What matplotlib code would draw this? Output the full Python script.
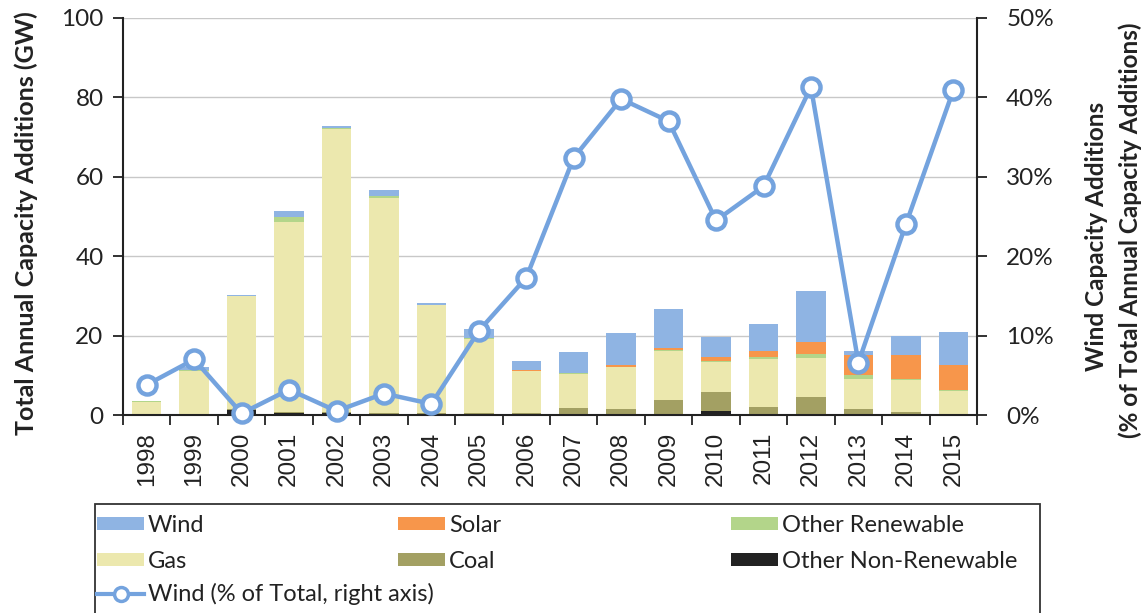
import matplotlib
matplotlib.use("Agg")
import matplotlib.pyplot as plt
from matplotlib.patches import Patch, Rectangle
from matplotlib.lines import Line2D
from matplotlib.ticker import FuncFormatter
import numpy as np

years = ["1998", "1999", "2000", "2001", "2002", "2003", "2004", "2005", "2006",
         "2007", "2008", "2009", "2010", "2011", "2012", "2013", "2014", "2015"]

# Annual capacity additions by source (GW)
other_nonrenew = [0.0, 0.0, 1.2, 0.4, 0.5, 0.2, 0.0, 0.0, 0.0, 0.0, 0.0, 0.0, 1.0, 0.3, 0.0, 0.0, 0.0, 0.0]
coal = [0.0, 0.2, 0.3, 0.3, 0.3, 0.4, 0.5, 0.5, 0.5, 1.7, 1.5, 3.8, 4.7, 1.8, 4.6, 1.4, 0.8, 0.1]
gas = [3.3, 11.0, 28.5, 48.0, 71.2, 54.1, 27.2, 18.6, 10.5, 8.7, 10.5, 12.2, 7.6, 12.0, 9.7, 7.6, 8.0, 5.9]
other_renew = [0.2, 0.2, 0.1, 1.2, 0.4, 0.4, 0.1, 0.2, 0.2, 0.1, 0.2, 0.4, 0.3, 0.5, 1.0, 1.0, 0.3, 0.3]
solar = [0.0, 0.0, 0.0, 0.0, 0.0, 0.0, 0.0, 0.0, 0.1, 0.2, 0.3, 0.4, 1.0, 1.5, 3.2, 5.0, 6.1, 6.2]
wind = [0.0, 0.8, 0.1, 1.6, 0.3, 1.6, 0.4, 2.3, 2.4, 5.1, 8.2, 9.9, 5.1, 6.7, 12.8, 1.1, 4.8, 8.5]

# Wind share of total annual additions (%)
wind_share = [3.8, 7.0, 0.2, 3.2, 0.5, 2.7, 1.4, 10.6, 17.3, 32.4, 39.8, 37.0,
              24.5, 28.8, 41.3, 6.6, 24.0, 40.9]

series = [
    ("Other Non-Renewable", other_nonrenew, "#222222"),
    ("Coal", coal, "#a3a063"),
    ("Gas", gas, "#ece8ae"),
    ("Other Renewable", other_renew, "#b3d58a"),
    ("Solar", solar, "#f7964b"),
    ("Wind", wind, "#8fb4e3"),
]
colors = {name: c for name, _, c in series}
line_color = "#74a3de"
ink = "#222222"

label_font = "Lato"
tick_font = "Liberation Sans"

W, H = 1144, 613
fig = plt.figure(figsize=(W / 100, H / 100), dpi=100)
ax = fig.add_axes([123 / W, 1 - 415 / H, (977 - 123) / W, (415 - 18) / H])
x = np.arange(len(years))

bottom = np.zeros(len(years))
for name, vals, c in series:
    vals = np.array(vals)
    ax.bar(x, vals, width=0.62, bottom=bottom, color=c, edgecolor="none", zorder=2)
    bottom += vals

ax.set_xlim(-0.5, len(years) - 0.5)
ax.set_ylim(0, 100)
ax.set_yticks([0, 20, 40, 60, 80, 100])
ax.yaxis.grid(True, color="#c8c8c8", linewidth=1.0, zorder=0)
ax.set_axisbelow(True)

ax.set_xticks(x)
ax.set_xticklabels(years, rotation=90, fontsize=17.5, family=tick_font, color=ink)
ax.set_xticks(np.arange(-0.5, len(years)), minor=True)
ax.tick_params(axis="x", which="major", length=0, pad=12)
ax.tick_params(axis="x", which="minor", length=7, width=1.3, direction="out", color=ink)
ax.tick_params(axis="y", length=7, width=1.3, direction="out", labelsize=17.5, color=ink,
               labelcolor=ink, pad=7)
for lab in ax.get_yticklabels():
    lab.set_family(label_font)

for side in ["top", "right"]:
    ax.spines[side].set_visible(False)
for side in ["left", "bottom"]:
    ax.spines[side].set_linewidth(1.5)
    ax.spines[side].set_color(ink)

ax2 = ax.twinx()
ax2.set_ylim(0, 50)
ax2.set_yticks([0, 10, 20, 30, 40, 50])
ax2.yaxis.set_major_formatter(FuncFormatter(lambda v, p: f"{int(v)}%"))
ax2.plot(x, wind_share, color=line_color, linewidth=3.2, marker="o", markersize=13,
         markerfacecolor="white", markeredgecolor=line_color, markeredgewidth=3.2,
         zorder=5, clip_on=False)
ax2.tick_params(axis="y", length=7, width=1.3, direction="out", labelsize=17.5, color=ink,
                labelcolor=ink, pad=14)
for lab in ax2.get_yticklabels():
    lab.set_family(label_font)
for side in ["top", "left", "bottom"]:
    ax2.spines[side].set_visible(False)
ax2.spines["right"].set_linewidth(1.5)
ax2.spines["right"].set_color(ink)

# Axis titles
fig.text(26 / W, 1 - 223 / H, "Total Annual Capacity Additions (GW)", rotation=90,
         ha="center", va="center", fontsize=18, fontweight="bold", family=label_font,
         color=ink)
fig.text(1097 / W, 1 - 236 / H, "Wind Capacity Additions", rotation=90,
         ha="center", va="center", fontsize=17.5, fontweight="bold", family=label_font,
         color=ink)
fig.text(1130 / W, 1 - 230 / H, "(% of Total Annual Capacity Additions)", rotation=90,
         ha="center", va="center", fontsize=17.5, fontweight="bold", family=label_font,
         color=ink)

# Legend frame running off the lower edge
fig.patches.append(Rectangle((95 / W, -0.05), (1040 - 95) / W, 0.05 + (H - 504) / H,
                             transform=fig.transFigure, fill=False, edgecolor="#333333",
                             linewidth=1.3, zorder=1))

# Legend entries: (handle left x, row centre y, handle)
line_handle = Line2D([0], [0], color=line_color, linewidth=3, marker="o", markersize=10,
                     markerfacecolor="white", markeredgecolor=line_color, markeredgewidth=2.5,
                     label="Wind (% of Total, right axis)")
entries = [
    (97, 525, Patch(facecolor=colors["Wind"], label="Wind")),
    (97, 561, Patch(facecolor=colors["Gas"], label="Gas")),
    (97, 594, line_handle),
    (398, 525, Patch(facecolor=colors["Solar"], label="Solar")),
    (398, 561, Patch(facecolor=colors["Coal"], label="Coal")),
    (731, 525, Patch(facecolor=colors["Other Renewable"], label="Other Renewable")),
    (731, 561, Patch(facecolor=colors["Other Non-Renewable"], label="Other Non-Renewable")),
]
for xpix, ypix, h in entries:
    leg = fig.legend(handles=[h], loc="center left",
                     bbox_to_anchor=(xpix / W, 1 - ypix / H), frameon=False,
                     prop={"family": label_font, "size": 17}, handlelength=2.0,
                     handleheight=0.47, handletextpad=0.15,
                     borderaxespad=0, borderpad=0)
    for t in leg.get_texts():
        t.set_color(ink)

fig.savefig("out.png", dpi=100, facecolor="white")
